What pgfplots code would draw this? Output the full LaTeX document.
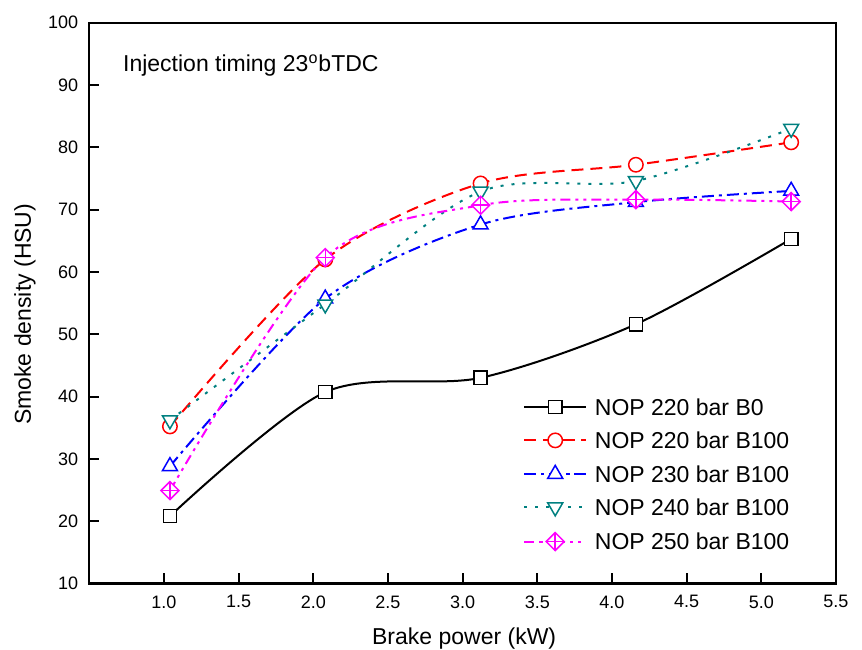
\documentclass[border=0pt]{standalone}
\usepackage{fontspec}
\setmainfont{Liberation Sans}
\usepackage{pgfplots}
\pgfplotsset{compat=1.18}

\definecolor{ogteal}{RGB}{0,128,128}
\definecolor{ogmag}{RGB}{255,0,255}

% diamond with a cross inside (Origin style)
\pgfdeclareplotmark{dplus}{%
  \pgfpathmoveto{\pgfqpoint{0pt}{\pgfplotmarksize}}%
  \pgfpathlineto{\pgfqpoint{\pgfplotmarksize}{0pt}}%
  \pgfpathlineto{\pgfqpoint{0pt}{-\pgfplotmarksize}}%
  \pgfpathlineto{\pgfqpoint{-\pgfplotmarksize}{0pt}}%
  \pgfpathclose
  \pgfusepathqfillstroke
  \pgfpathmoveto{\pgfqpoint{0pt}{\pgfplotmarksize}}%
  \pgfpathlineto{\pgfqpoint{0pt}{-\pgfplotmarksize}}%
  \pgfpathmoveto{\pgfqpoint{\pgfplotmarksize}{0pt}}%
  \pgfpathlineto{\pgfqpoint{-\pgfplotmarksize}{0pt}}%
  \pgfusepathqstroke
}

\tikzset{
  ser/.style = {line width=1pt, smooth, tension=0.5,
                mark options={solid, line width=0.75pt, fill=white}},
}

\begin{document}
\begin{tikzpicture}
\useasboundingbox (-44.65pt,-32.8pt) rectangle (386.35pt,291.7pt);
\begin{axis}[
  scale only axis, width=373.35pt, height=280.35pt,
  xmin=0.5, xmax=5.5, ymin=10, ymax=100,
  xtick={1,1.5,2,2.5,3,3.5,4,4.5,5,5.5},
  ytick={10,20,...,100},
  /pgf/number format/assume math mode=true,
  x tick label style={/pgf/number format/fixed,
                      /pgf/number format/fixed zerofill,
                      /pgf/number format/precision=1, yshift=-2.5pt},
  y tick label style={xshift=-2pt},
  tick label style={font=\fontsize{9}{10}\selectfont},
  label style={font=\fontsize{11.5}{13}\selectfont},
  tick align=inside, tick pos=left, major tick length=5pt,
  every tick/.style={black, line width=1pt},
  axis line style={line width=1.2pt},
  xlabel={Brake power (kW)},
  ylabel={Smoke density (HSU)},
  xlabel style={at={(axis description cs:0.502,-0.1081)}, anchor=base},
  ylabel style={at={(axis description cs:-0.0861,0.48)}, anchor=center},
  legend cell align=left,
  legend image code/.code={%
    \draw[mark repeat=2, mark phase=2] plot coordinates {(0pt,0pt) (15.5pt,0pt) (31pt,0pt)};},
  legend style={draw=none, fill=none, at={(axis cs:3.403,39.7)}, anchor=north west,
                inner sep=0pt, row sep=8.35pt, column sep=3.85pt,
                font=\fontsize{11.5}{13}\selectfont,
                nodes={inner sep=0pt, text height=8.3pt, text depth=0pt}},
]
\addplot[ser, black, mark=square*, mark size=3.3pt] coordinates {
  (1.04,20.8) (2.08,40.7) (3.12,43.0) (4.16,51.6) (5.2,65.3)};
\addlegendentry{NOP 220 bar B0}
\addplot[ser, red, dash pattern=on 6pt off 3.5pt, mark=*, mark size=3.6pt] coordinates {
  (1.04,35.2) (2.08,62.0) (3.12,74.2) (4.16,77.2) (5.2,80.8)};
\addlegendentry{NOP 220 bar B100}
\addplot[ser, blue, dash pattern=on 6pt off 2.5pt on 1.5pt off 2.5pt,
         mark=triangle*, mark size=4.3pt] coordinates {
  (1.04,28.8) (2.08,55.7) (3.12,67.6) (4.16,71.2) (5.2,73.0)};
\addlegendentry{NOP 230 bar B100}
\addplot[ser, ogteal, dash pattern=on 1.5pt off 4pt,
         mark=triangle*, mark size=4.3pt,
         mark options={solid, line width=0.75pt, fill=white, rotate=180}] coordinates {
  (1.04,36.2) (2.08,54.8) (3.12,72.9) (4.16,74.6) (5.2,83.0)};
\addlegendentry{NOP 240 bar B100}
\addplot[ser, ogmag, dash pattern=on 5pt off 2.5pt on 1.5pt off 2.5pt on 1.5pt off 2.5pt,
         mark=dplus, mark size=4.5pt] coordinates {
  (1.04,24.9) (2.08,62.3) (3.12,70.7) (4.16,71.6) (5.2,71.3)};
\addlegendentry{NOP 250 bar B100}

\node[anchor=base west, inner sep=0pt, font=\fontsize{11.5}{13}\selectfont]
  at (axis cs:0.724,92.1) {Injection timing 23\textsuperscript{o}bTDC};
\end{axis}
\end{tikzpicture}
\end{document}
